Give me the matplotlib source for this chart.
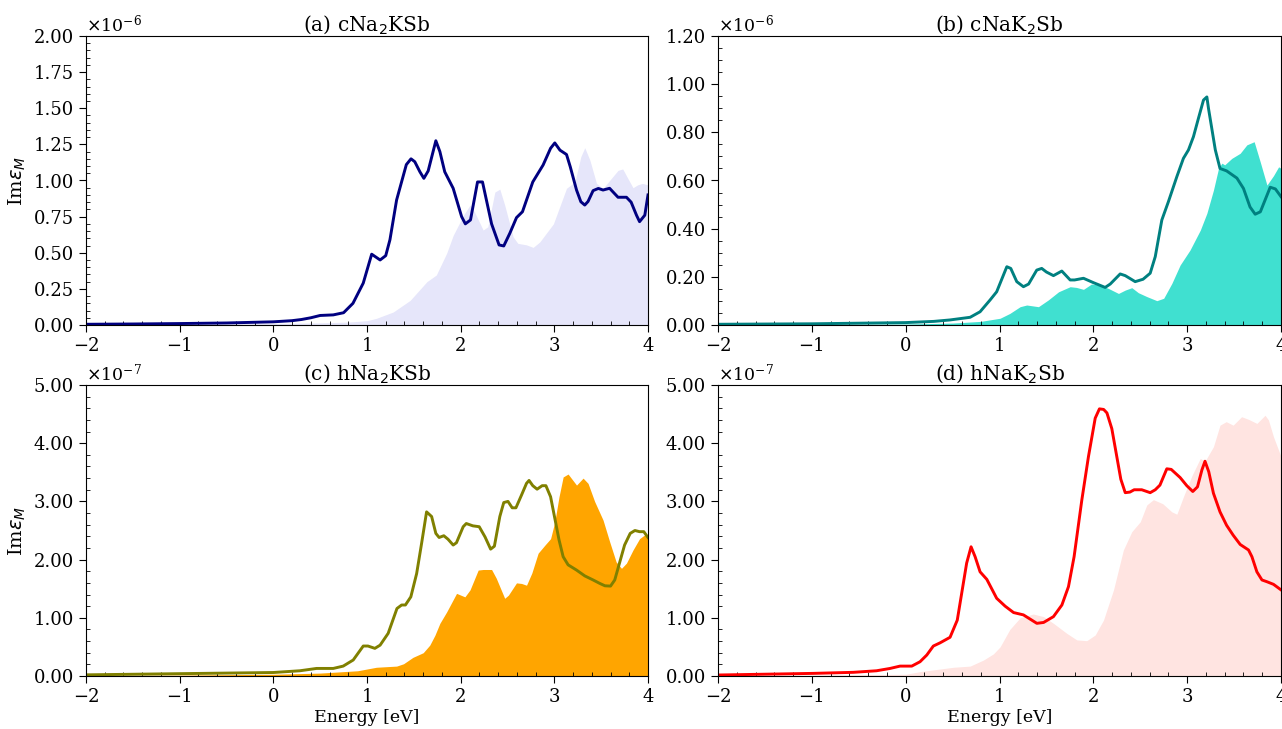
import numpy as np
import matplotlib
matplotlib.use("Agg")
import matplotlib.pyplot as plt
from matplotlib.ticker import ScalarFormatter, AutoMinorLocator, MultipleLocator

plt.rcParams['font.family'] = 'DejaVu Serif'
plt.rcParams['font.size'] = 13

# ---- data ----
# (a) cNa2KSb, units of 1e-6
a_line_E = [-2, -1.5, -1, -0.5, 0, 0.2, 0.3, 0.4, 0.5, 0.64, 0.75, 0.85, 0.96, 1.05, 1.14, 1.2,
            1.245, 1.316, 1.42, 1.47, 1.51, 1.565, 1.607, 1.653, 1.735, 1.778, 1.83, 1.92, 2.01,
            2.05, 2.105, 2.18, 2.233, 2.33, 2.41, 2.46, 2.525, 2.596, 2.66, 2.77, 2.88, 2.96,
            3.005, 3.06, 3.13, 3.17, 3.237, 3.283, 3.325, 3.36, 3.414, 3.47, 3.52, 3.59, 3.68,
            3.77, 3.82, 3.877, 3.91, 3.966, 4.0]
a_line_v = [0.005, 0.007, 0.01, 0.014, 0.022, 0.03, 0.038, 0.05, 0.066, 0.07, 0.085, 0.15, 0.29,
            0.49, 0.45, 0.48, 0.59, 0.865, 1.11, 1.15, 1.13, 1.06, 1.015, 1.066, 1.275, 1.2, 1.06,
            0.946, 0.75, 0.7, 0.727, 0.99, 0.99, 0.7, 0.554, 0.547, 0.635, 0.743, 0.784, 0.99,
            1.107, 1.223, 1.26, 1.21, 1.18, 1.095, 0.934, 0.853, 0.83, 0.855, 0.93, 0.945, 0.934,
            0.946, 0.884, 0.884, 0.85, 0.76, 0.715, 0.76, 0.9]
a_fill_E = [-2, -1, 0, 0.5, 0.8, 1.0, 1.1, 1.28, 1.46, 1.64, 1.74, 1.85, 1.92, 2.03, 2.1, 2.15,
            2.24, 2.29, 2.365, 2.418, 2.47, 2.56, 2.61, 2.7, 2.774, 2.845, 2.99, 3.13, 3.22, 3.283,
            3.325, 3.38, 3.45, 3.52, 3.59, 3.68, 3.73, 3.78, 3.84, 3.89, 3.94, 4.0]
a_fill_v = [0.002, 0.005, 0.01, 0.015, 0.02, 0.03, 0.046, 0.09, 0.17, 0.3, 0.346, 0.496, 0.62,
            0.76, 0.83, 0.78, 0.657, 0.68, 0.92, 0.94, 0.83, 0.61, 0.565, 0.555, 0.537, 0.575,
            0.7, 0.946, 0.99, 1.165, 1.227, 1.14, 0.98, 0.945, 1.0, 1.07, 1.08, 1.02, 0.95, 0.97,
            0.98, 0.97]

# (b) cNaK2Sb, units of 1e-6
b_line_E = [-2, -1, 0, 0.3, 0.473, 0.687, 0.793, 0.9, 0.97, 1.078, 1.12, 1.184, 1.255, 1.31,
            1.397, 1.45, 1.5, 1.575, 1.664, 1.753, 1.8, 1.895, 2.0, 2.126, 2.18, 2.286, 2.34,
            2.446, 2.53, 2.606, 2.66, 2.73, 2.8, 2.89, 2.96, 3.014, 3.067, 3.12, 3.174, 3.21,
            3.227, 3.3, 3.35, 3.42, 3.53, 3.6, 3.67, 3.725, 3.78, 3.885, 3.94, 4.0]
b_line_v = [0.003, 0.005, 0.01, 0.015, 0.021, 0.032, 0.055, 0.104, 0.138, 0.242, 0.235, 0.18,
            0.159, 0.17, 0.228, 0.235, 0.22, 0.205, 0.224, 0.187, 0.187, 0.194, 0.176, 0.156,
            0.17, 0.212, 0.205, 0.18, 0.19, 0.215, 0.284, 0.436, 0.512, 0.616, 0.692, 0.727,
            0.782, 0.858, 0.934, 0.947, 0.9, 0.727, 0.65, 0.64, 0.61, 0.567, 0.49, 0.46, 0.47,
            0.572, 0.565, 0.533]
b_fill_E = [-2, 0, 0.5, 0.8, 1.006, 1.11, 1.22, 1.29, 1.415, 1.52, 1.63, 1.753, 1.82, 1.895,
            1.98, 2.07, 2.16, 2.268, 2.34, 2.41, 2.48, 2.57, 2.677, 2.75, 2.837, 2.925, 3.03,
            3.14, 3.21, 3.28, 3.334, 3.37, 3.4, 3.476, 3.565, 3.636, 3.714, 3.778, 3.85, 3.92,
            3.975, 4.0]
b_fill_v = [0.001, 0.004, 0.008, 0.015, 0.028, 0.048, 0.076, 0.083, 0.076, 0.104, 0.138, 0.159,
            0.156, 0.148, 0.17, 0.166, 0.152, 0.131, 0.145, 0.155, 0.134, 0.118, 0.101, 0.111,
            0.173, 0.249, 0.311, 0.394, 0.464, 0.56, 0.65, 0.672, 0.665, 0.692, 0.713, 0.748,
            0.761, 0.678, 0.581, 0.62, 0.657, 0.65]

# (c) hNa2KSb, units of 1e-7
c_line_E = [-2, -1, 0, 0.284, 0.462, 0.64, 0.746, 0.853, 0.96, 1.01, 1.084, 1.14, 1.226, 1.32,
            1.37, 1.41, 1.468, 1.53, 1.583, 1.636, 1.69, 1.735, 1.77, 1.82, 1.865, 1.92, 1.955,
            2.027, 2.06, 2.13, 2.198, 2.26, 2.32, 2.36, 2.418, 2.46, 2.505, 2.55, 2.59, 2.65,
            2.703, 2.73, 2.77, 2.816, 2.87, 2.91, 2.96, 3.005, 3.05, 3.094, 3.147, 3.237, 3.325,
            3.414, 3.486, 3.54, 3.6, 3.645, 3.7, 3.75, 3.81, 3.86, 3.91, 3.955, 4.0]
c_line_v = [0.02, 0.04, 0.06, 0.09, 0.13, 0.13, 0.17, 0.275, 0.515, 0.515, 0.475, 0.53, 0.733,
            1.16, 1.22, 1.22, 1.36, 1.76, 2.28, 2.82, 2.74, 2.45, 2.38, 2.41, 2.35, 2.25, 2.29,
            2.565, 2.62, 2.58, 2.565, 2.39, 2.18, 2.23, 2.74, 2.98, 3.0, 2.89, 2.89, 3.11, 3.31,
            3.36, 3.27, 3.21, 3.27, 3.27, 3.08, 2.71, 2.34, 2.05, 1.91, 1.82, 1.72, 1.65, 1.59,
            1.55, 1.545, 1.65, 1.965, 2.25, 2.45, 2.5, 2.48, 2.48, 2.38]
c_fill_E = [-2, -1, 0, 0.5, 0.9, 1.1, 1.316, 1.39, 1.49, 1.6, 1.67, 1.725, 1.778, 1.85, 1.956,
            2.045, 2.1, 2.187, 2.24, 2.33, 2.38, 2.47, 2.51, 2.596, 2.65, 2.703, 2.76, 2.827, 2.9,
            2.96, 3.005, 3.05, 3.094, 3.147, 3.237, 3.307, 3.36, 3.43, 3.52, 3.59, 3.66, 3.717,
            3.77, 3.84, 3.91, 3.96, 4.0]
c_fill_v = [0.01, 0.015, 0.03, 0.05, 0.09, 0.15, 0.17, 0.21, 0.32, 0.4, 0.53, 0.7, 0.905, 1.1,
            1.42, 1.36, 1.48, 1.82, 1.83, 1.83, 1.68, 1.335, 1.39, 1.6, 1.59, 1.56, 1.77, 2.11,
            2.25, 2.36, 2.65, 3.08, 3.42, 3.47, 3.28, 3.4, 3.31, 3.0, 2.68, 2.31, 1.96, 1.85, 1.94,
            2.165, 2.36, 2.42, 2.4]

# (d) hNaK2Sb, units of 1e-7
d_line_E = [-2, -0.984, -0.558, -0.31, -0.166, -0.06, 0.065, 0.153, 0.225, 0.295, 0.367, 0.473,
            0.55, 0.65, 0.697, 0.74, 0.793, 0.865, 0.97, 1.06, 1.15, 1.255, 1.398, 1.47, 1.575,
            1.665, 1.735, 1.795, 1.877, 1.948, 2.02, 2.065, 2.11, 2.145, 2.197, 2.25, 2.293,
            2.34, 2.39, 2.435, 2.516, 2.606, 2.66, 2.71, 2.783, 2.83, 2.925, 2.996, 3.06, 3.11,
            3.157, 3.19, 3.23, 3.28, 3.35, 3.42, 3.49, 3.565, 3.654, 3.69, 3.743, 3.797, 3.85,
            3.92, 4.0]
d_line_v = [0.017, 0.045, 0.063, 0.09, 0.13, 0.17, 0.17, 0.245, 0.36, 0.515, 0.57, 0.665, 0.96,
            1.94, 2.22, 2.05, 1.79, 1.66, 1.335, 1.2, 1.09, 1.05, 0.905, 0.92, 1.02, 1.22, 1.535,
            2.05, 3.02, 3.77, 4.43, 4.59, 4.58, 4.52, 4.25, 3.77, 3.38, 3.15, 3.16, 3.2, 3.2,
            3.15, 3.2, 3.28, 3.56, 3.55, 3.41, 3.27, 3.17, 3.25, 3.54, 3.69, 3.51, 3.14, 2.82,
            2.59, 2.42, 2.26, 2.165, 2.05, 1.79, 1.65, 1.62, 1.575, 1.48]
d_fill_E = [-2, -1, 0, 0.153, 0.51, 0.687, 0.83, 0.935, 1.006, 1.11, 1.22, 1.36, 1.47, 1.575,
            1.717, 1.824, 1.93, 2.02, 2.108, 2.215, 2.32, 2.41, 2.5, 2.57, 2.64, 2.74, 2.837,
            2.89, 2.96, 3.05, 3.14, 3.19, 3.28, 3.35, 3.416, 3.49, 3.58, 3.654, 3.743, 3.83,
            3.866, 3.92, 4.0]
d_fill_v = [0.01, 0.015, 0.03, 0.075, 0.15, 0.17, 0.275, 0.38, 0.5, 0.8, 1.0, 1.065, 1.02,
            0.905, 0.733, 0.62, 0.607, 0.705, 0.96, 1.48, 2.165, 2.48, 2.65, 2.94, 3.03, 2.96,
            2.82, 2.78, 3.08, 3.44, 3.74, 3.69, 3.94, 4.31, 4.37, 4.31, 4.455, 4.41, 4.34, 4.48,
            4.4, 4.11, 3.77]

panels = [
    ("(a) cNa$_2$KSb", a_line_E, a_line_v, a_fill_E, a_fill_v, 1e-6, 2.0, 0.25, 'navy', 'lavender'),
    ("(b) cNaK$_2$Sb", b_line_E, b_line_v, b_fill_E, b_fill_v, 1e-6, 1.2, 0.2, 'teal', 'turquoise'),
    ("(c) hNa$_2$KSb", c_line_E, c_line_v, c_fill_E, c_fill_v, 1e-7, 5.0, 1.0, 'olive', 'orange'),
    ("(d) hNaK$_2$Sb", d_line_E, d_line_v, d_fill_E, d_fill_v, 1e-7, 5.0, 1.0, 'red', 'mistyrose'),
]


class FixedFmt(ScalarFormatter):
    def _set_format(self):
        self.format = "%.2f"


W, H = 1282, 729
fig = plt.figure(figsize=(W / 100, H / 100), dpi=100)
boxes = [(86, 36, 648, 325), (718, 36, 1281, 325), (86, 385, 648, 676), (718, 385, 1281, 676)]

for i, (title, le, lv, fe, fv, scale, ymax, ystep, lc, fc) in enumerate(panels):
    x0, y0, x1, y1 = boxes[i]
    ax = fig.add_axes([x0 / W, 1 - y1 / H, (x1 - x0) / W, (y1 - y0) / H])
    ax.fill_between(fe, 0, np.array(fv) * scale, color=fc, lw=0)
    ax.plot(le, np.array(lv) * scale, color=lc, lw=2.1)
    ax.set_xlim(-2, 4)
    ax.set_ylim(0, ymax * scale)
    ax.yaxis.set_major_locator(MultipleLocator(ystep * scale))
    fmt = FixedFmt(useMathText=True)
    fmt.set_powerlimits((0, 0))
    ax.yaxis.set_major_formatter(fmt)
    ax.xaxis.set_minor_locator(AutoMinorLocator(5))
    ax.yaxis.set_minor_locator(AutoMinorLocator())
    ax.tick_params(which='major', direction='out', length=5, labelsize=13)
    ax.tick_params(which='minor', direction='in', length=3)
    ax.yaxis.get_offset_text().set_fontsize(12.5)
    ax.set_title(title, fontsize=14.5, pad=4)
    if i % 2 == 0:
        ax.set_ylabel(r"Im$\varepsilon_M$", fontsize=14)
    if i >= 2:
        ax.set_xlabel("Energy [eV]", fontsize=12.5, labelpad=2)

fig.savefig("out.png", dpi=100)
